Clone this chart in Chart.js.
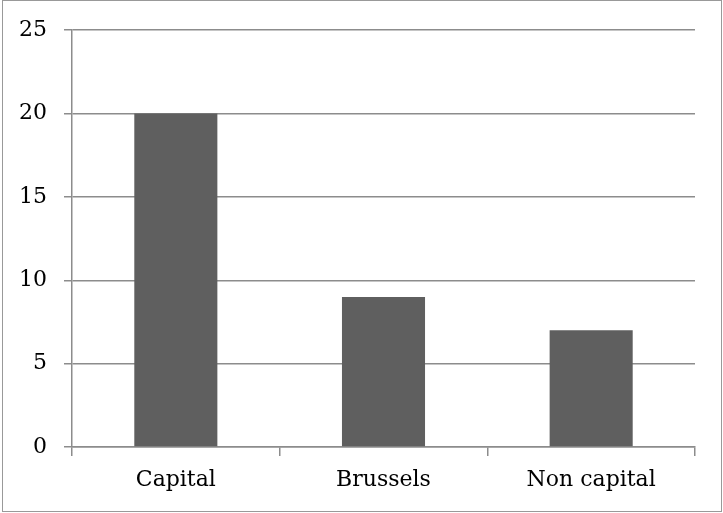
<!DOCTYPE html>
<html lang="en">
<head>
  <meta charset="UTF-8" />
  <title>Capital vs Brussels vs Non capital</title>
  <style>
    body { margin: 0; background: #ffffff; }
    #wrap { position: relative; width: 723px; height: 513px; }
  </style>
</head>
<body>
  <div id="wrap"><canvas id="chart" width="723" height="513"></canvas></div>

  <script src="https://cdn.jsdelivr.net/npm/chart.js"></script>
  <script>
    const categories = ['Capital', 'Brussels', 'Non capital'];
    const counts = [20, 9, 7];
    const yTicks = [0, 5, 10, 15, 20, 25];

    const axisColor = '#8c8c8c';
    const labelFont = { family: "'DejaVu Serif', serif", size: 22 };

    // thin frame round the whole chart
    const frame = {
      id: 'frame',
      beforeDraw(chart) {
        const c = chart.ctx;
        c.save();
        c.fillStyle = '#ffffff';
        c.fillRect(0, 0, chart.width, chart.height);
        c.strokeStyle = '#999999';
        c.lineWidth = 1;
        c.strokeRect(2.5, 0.5, 719, 511);
        c.restore();
      }
    };

    new Chart(document.getElementById('chart'), {
      type: 'bar',
      data: {
        labels: categories,
        datasets: [{
          data: counts,
          backgroundColor: '#5f5f5f',
          borderWidth: 0,
          barPercentage: 0.4,
          categoryPercentage: 1.0
        }]
      },
      options: {
        responsive: false,
        animation: false,
        devicePixelRatio: 1,
        layout: { padding: { left: 0, right: 28, top: 29.5, bottom: 0 } },
        plugins: {
          legend: { display: false },
          tooltip: { enabled: false }
        },
        scales: {
          x: {
            grid: {
              offset: true,
              drawOnChartArea: false,
              drawTicks: true,
              tickLength: 9,
              color: axisColor,
              lineWidth: 1.5
            },
            border: { color: axisColor, width: 1.5 },
            ticks: { color: '#000000', font: labelFont, padding: 11, maxRotation: 0 },
            afterFit(scale) { scale.height = 66; }
          },
          y: {
            min: 0,
            max: 25,
            afterBuildTicks(scale) { scale.ticks = yTicks.map(v => ({ value: v })); },
            grid: {
              color: axisColor,
              lineWidth: 1.5,
              tickLength: 8
            },
            border: { color: axisColor, width: 1.5 },
            ticks: { color: '#000000', font: labelFont, padding: 17 },
            afterFit(scale) { scale.width = 72; }
          }
        }
      },
      plugins: [frame]
    });
  </script>
</body>
</html>
